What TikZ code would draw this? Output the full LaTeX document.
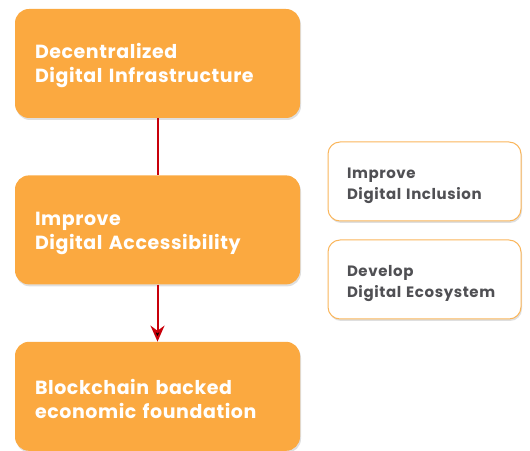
\documentclass[tikz,border=0pt]{standalone}
\usepackage{fontspec}
\setmainfont{Poppins}[BoldFont={Poppins Bold}]
\newfontfamily\mainboxfont{Poppins}[BoldFont={Poppins Bold},LetterSpace=3]
\newfontfamily\sideboxfont{Poppins}[BoldFont={Poppins Bold},LetterSpace=4]
\usepackage{tikz}
\usetikzlibrary{positioning,shadows,arrows.meta}
\definecolor{boxorange}{RGB}{251,169,64}
\definecolor{edgeorange}{RGB}{250,182,92}
\definecolor{arrowred}{RGB}{200,0,10}
\definecolor{textgray}{RGB}{80,80,84}
\newcommand{\mainstrut}{\rule{0pt}{20pt}}
\newcommand{\sidestrut}{\rule{0pt}{19pt}}
\tikzset{
	mainbox/.style={rectangle,rounded corners=14pt,fill=boxorange,minimum width=285pt,minimum height=109pt,
		text width=245pt,inner xsep=20pt,align=left,text=white,font=\mainboxfont\bfseries\fontsize{19}{24}\selectfont,
		drop shadow={opacity=0.25,shadow xshift=1pt,shadow yshift=-2pt}},
	sidebox/.style={rectangle,rounded corners=12pt,draw=edgeorange,line width=1pt,fill=white,minimum width=193pt,minimum height=79pt,
		text width=155pt,inner xsep=19pt,align=left,text=textgray,font=\sideboxfont\bfseries\fontsize{15}{21}\selectfont,
		drop shadow={opacity=0.25,shadow xshift=1pt,shadow yshift=-2pt}},
	link/.style={draw=arrowred,line width=2pt}
}
\begin{document}
\begin{tikzpicture}
	\useasboundingbox (0,0) rectangle (530pt,450pt);
	\node[mainbox] (infra) at (157.5pt,386.5pt) {\mainstrut Decentralized\\Digital Infrastructure};
	\node[mainbox,below=57pt of infra] (access) {\mainstrut Improve\\Digital Accessibility};
	\node[mainbox,below=57pt of access] (found) {\mainstrut Blockchain backed\\economic foundation};
	\node[sidebox] (incl) at (424.5pt,268.5pt) {\sidestrut Improve\\Digital Inclusion};
	\node[sidebox] (eco) at (424.5pt,170.5pt) {\sidestrut Develop\\Digital Ecosystem};
	\path[link]
	(infra) edge (access)
	(access) edge[-{Stealth[length=16pt,width=14pt]}] (found);
\end{tikzpicture}
\end{document}
